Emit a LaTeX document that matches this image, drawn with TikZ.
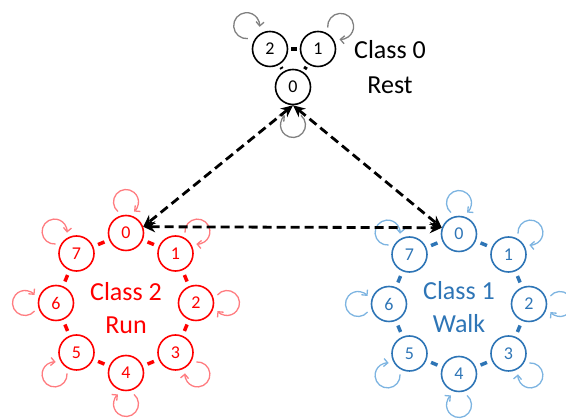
\documentclass[tikz,border=0pt]{standalone}
\usepackage{fontspec}
\setmainfont{Carlito}
\usetikzlibrary{arrows.meta}
\definecolor{runred}{RGB}{255,0,0}
\definecolor{runpink}{RGB}{255,124,128}
\definecolor{walkblue}{RGB}{46,117,182}
\definecolor{walklight}{RGB}{125,180,225}
\definecolor{restgray}{RGB}{128,128,128}

\begin{document}
\begin{tikzpicture}[
  x=1pt, y=1pt,
  state/.style={draw, circle, minimum size=35pt, inner sep=0pt, line width=1.6pt, font=\fontsize{18}{20}\selectfont},
  classlabel/.style={align=center, font=\fontsize{26}{33}\selectfont},
  selfloop/.style={line width=1.3pt, -{Straight Barb[length=4pt,width=8pt]}},
  link/.style={line width=3.5pt, shorten <=5pt, shorten >=5pt},
  bridge/.style={line width=2.8pt, dash pattern=on 9pt off 5pt, {Stealth[length=12pt,width=11pt]}-{Stealth[length=12pt,width=11pt]}}
]
  \useasboundingbox (0,0) rectangle (566,420);

  % class 0 (rest)
  \node[state] (c2) at (270,371) {2};
  \node[state] (c1) at (318,371) {1};
  \node[state] (c0) at (293,333) {0};
  \node[classlabel, font=\fontsize{26}{35}\selectfont] (restlabel) at (390,353) {Class 0\\Rest};

  % class 2 (run) and class 1 (walk)
  \foreach \i in {0,...,7} {
    \node[state, runred] (r\i) at ({126+70*cos(90-45*\i)},{117+70*sin(90-45*\i)}) {\i};
    \node[state, walkblue] (b\i) at ({459+70*cos(90-45*\i)},{116+70*sin(90-45*\i)}) {\i};
  }
  \node[classlabel, runred] (runlabel) at (126,112) {Class 2\\Run};
  \node[classlabel, walkblue] (walklabel) at (459,113) {Class 1\\Walk};

  % self loops (clockwise, a little away from the node)
  \draw[selfloop, restgray] (c2) ++(135:33) ++(275:13) arc[start angle=275, end angle=-5, radius=13];
  \draw[selfloop, restgray] (c1) ++(45:32) ++(185:13) arc[start angle=185, end angle=-95, radius=13];
  \draw[selfloop, restgray] (c0) ++(-90:38) ++(50:12.5) arc[start angle=50, end angle=-230, radius=12.5];
  \foreach \i in {0,...,7} {
    \pgfmathsetmacro\a{90-45*\i}
    \pgfmathsetmacro\b{\a+140}
    \pgfmathsetmacro\e{\a-140}
    \draw[selfloop, runpink] (r\i) ++(\a:31) ++(\b:12.5) arc[start angle=\b, end angle=\e, radius=12.5];
    \draw[selfloop, walklight] (b\i) ++(\a:31) ++(\b:12.5) arc[start angle=\b, end angle=\e, radius=12.5];
  }

  % links inside each class
  \draw[link, shorten <=3pt, shorten >=3pt] (c2) -- (c1);
  \draw[link, shorten <=3pt, shorten >=3pt] (c2) -- (c0);
  \draw[link, shorten <=3pt, shorten >=3pt] (c1) -- (c0);
  \foreach \i in {0,...,7} {
    \pgfmathtruncatemacro\j{mod(\i+1,8)}
    \draw[link, runred] (r\i) -- (r\j);
    \draw[link, walkblue] (b\i) -- (b\j);
  }

  % transitions between classes
  \draw[bridge] (c0.south) -- (r0.20);
  \draw[bridge] (c0.south) -- (b0.160);
  \draw[bridge] (r0.20) -- (b0.160);
\end{tikzpicture}
\end{document}
